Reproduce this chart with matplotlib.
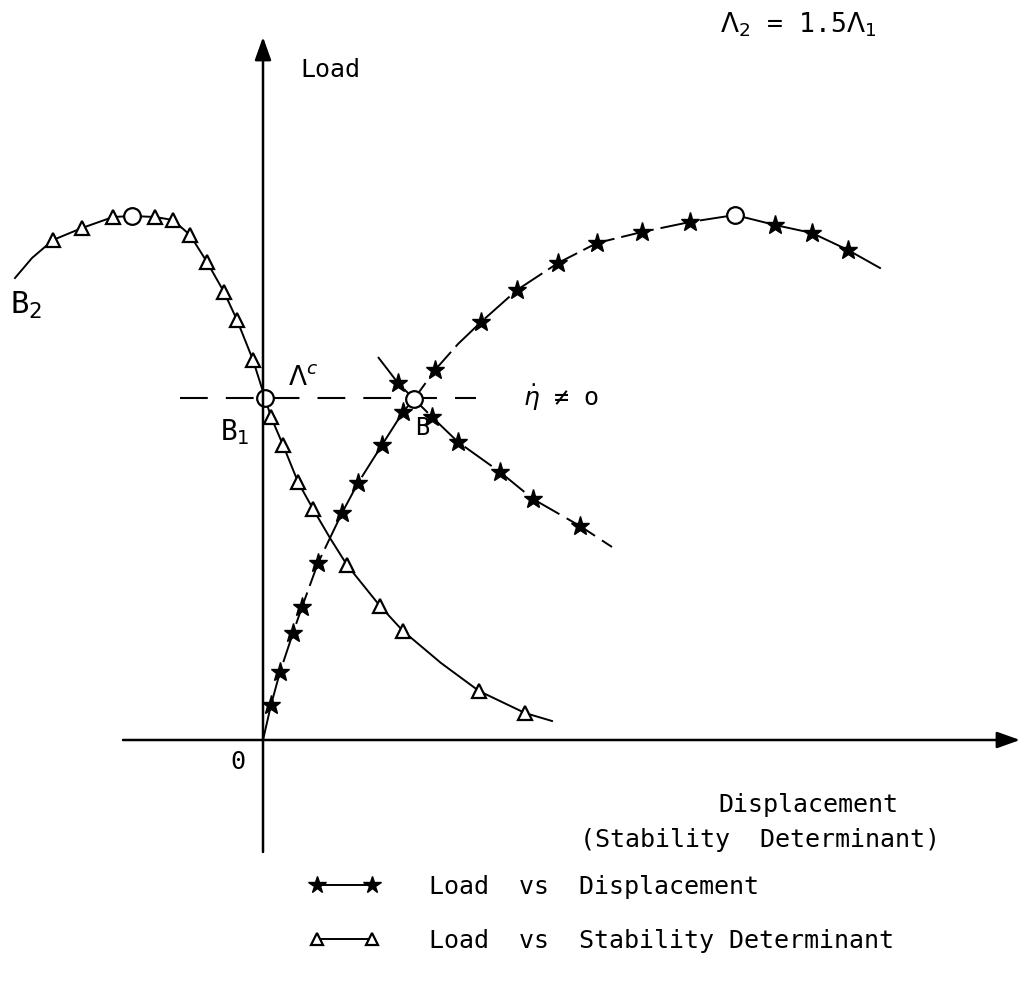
"""Load against displacement and stability determinant for two load paths."""
import matplotlib
matplotlib.use("Agg")
import matplotlib.pyplot as plt
from matplotlib.lines import Line2D

plt.rcParams["font.family"] = ["DejaVu Sans Mono", "DejaVu Sans"]
plt.rcParams["mathtext.fontset"] = "dejavusans"
plt.rcParams["lines.scale_dashes"] = False

# Load vs stability determinant (curve through B2 peak, B1 and down to the axis)
det_x = [-2.48, -2.31, -2.10, -1.81, -1.50, -1.31, -1.08, -0.90, -0.73, -0.56, -0.39,
         -0.26, -0.10, 0.02, 0.08, 0.20, 0.35, 0.50, 0.67, 0.84, 1.17, 1.40, 1.78,
         2.16, 2.62, 2.89]
det_y = [4.62, 4.82, 5.00, 5.12, 5.23, 5.24, 5.23, 5.20, 5.05, 4.78, 4.48,
         4.20, 3.80, 3.42, 3.23, 2.95, 2.58, 2.31, 2.02, 1.75, 1.34, 1.09, 0.77,
         0.49, 0.27, 0.19]
det_mark_x = [-2.10, -1.81, -1.50, -1.08, -0.90, -0.73, -0.56, -0.39, -0.26, -0.10,
              0.08, 0.20, 0.35, 0.50, 0.84, 1.17, 1.40, 2.16, 2.62]
det_mark_y = [5.00, 5.12, 5.23, 5.23, 5.20, 5.05, 4.78, 4.48, 4.20, 3.80,
              3.23, 2.95, 2.58, 2.31, 1.75, 1.34, 1.09, 0.49, 0.27]

# Load vs displacement, primary path (rising part and post-peak part)
disp_x = [0.0, 0.08, 0.17, 0.30, 0.39, 0.55, 0.79, 0.95, 1.19, 1.40, 1.51, 1.72,
          1.95, 2.18, 2.54, 2.95, 3.34, 3.79, 4.27, 4.72]
disp_y = [0.0, 0.35, 0.68, 1.07, 1.33, 1.77, 2.27, 2.57, 2.95, 3.28, 3.41, 3.70,
          3.96, 4.18, 4.50, 4.77, 4.97, 5.08, 5.18, 5.25]
post_x = [4.72, 5.12, 5.49, 5.85, 6.17]
post_y = [5.25, 5.15, 5.07, 4.90, 4.72]
disp_mark_x = [0.08, 0.17, 0.30, 0.39, 0.55, 0.79, 0.95, 1.19, 1.40, 1.72, 2.18,
               2.54, 2.95, 3.34, 3.79, 4.27, 5.12, 5.49, 5.85]
disp_mark_y = [0.35, 0.68, 1.07, 1.33, 1.77, 2.27, 2.57, 2.95, 3.28, 3.70, 4.18,
               4.50, 4.77, 4.97, 5.08, 5.18, 5.15, 5.07, 4.90]

# secondary branch through B (eta-dot != 0)
branch_x = [1.15, 1.35, 1.51, 1.69, 1.95, 2.37, 2.70, 3.17, 3.49]
branch_y = [3.83, 3.57, 3.41, 3.23, 2.98, 2.68, 2.41, 2.14, 1.93]
branch_mark_x = [1.35, 1.69, 1.95, 2.37, 2.70, 3.17]
branch_mark_y = [3.57, 3.23, 2.98, 2.68, 2.41, 2.14]

# limit points: B2 peak, B1, B and the displacement peak
limit_x = [-1.31, 0.02, 1.51, 4.72]
limit_y = [5.24, 3.42, 3.41, 5.25]

lambda_c = 3.42
lambda_c_span = (-0.83, 2.13)

fig = plt.figure(figsize=(10.24, 9.99), dpi=100)
ax = fig.add_axes([0, 0, 1, 1])
ax.set_xlim(-2.63, 7.61)
ax.set_ylim(-2.59, 7.40)
ax.axis("off")

# coordinate axes with arrow heads
arrow = dict(arrowstyle="-|>,head_length=0.7,head_width=0.25", color="black",
             lw=1.8, mutation_scale=20, shrinkA=0, shrinkB=0)
ax.annotate("", xy=(0.0, 7.03), xytext=(0.0, -1.12), arrowprops=arrow)
ax.annotate("", xy=(7.57, 0.0), xytext=(-1.40, 0.0), arrowprops=arrow)

ax.plot([lambda_c_span[0], lambda_c_span[1]], [lambda_c, lambda_c], color="black",
        lw=1.5, dashes=(20, 13))

ax.plot(det_x, det_y, color="black", lw=1.4)
ax.plot(det_mark_x, det_mark_y, ls="none", marker="^", ms=10, mfc="white",
        mec="black", mew=1.6)

ax.plot(disp_x, disp_y, color="black", lw=1.4, dashes=(24, 5))
ax.plot(post_x, post_y, color="black", lw=1.4)
ax.plot(branch_x, branch_y, color="black", lw=1.4, dashes=(24, 6))
ax.plot(disp_mark_x + branch_mark_x, disp_mark_y + branch_mark_y, ls="none",
        marker="*", ms=14, color="black")

ax.plot(limit_x, limit_y, ls="none", marker="o", ms=12, mfc="white", mec="black",
        mew=1.6)

fs = 18
ax.text(0.37, 6.70, "Load", fontsize=fs, va="center")
ax.text(4.57, 7.15, r"$\Lambda_2$ = 1.5$\Lambda_1$", fontsize=19, va="center")
ax.text(-2.53, 4.35, r"B$_2$", fontsize=22, va="center")
ax.text(-0.43, 3.08, r"B$_1$", fontsize=20, va="center")
ax.text(0.25, 3.62, r"$\Lambda^c$", fontsize=19, va="center")
ax.text(1.52, 3.12, "B", fontsize=17, va="center")
ax.text(2.60, 3.42, r"$\dot{\eta}$ ≠ o", fontsize=fs, va="center")
ax.text(-0.25, -0.22, "0", fontsize=fs, va="center", ha="center")
ax.text(4.55, -0.65, "Displacement", fontsize=fs, va="center")
ax.text(3.17, -1.00, "(Stability  Determinant)", fontsize=fs, va="center")

handles = [
    Line2D([], [], color="black", lw=1.4, marker="*", ms=13),
    Line2D([], [], color="black", lw=1.4, marker="^", ms=9, mfc="white", mew=1.6),
]
labels = ["Load  vs  Displacement", "Load  vs  Stability Determinant"]
fig.legend(handles, labels, loc="upper left", bbox_to_anchor=(0.29, 0.137),
           frameon=False, numpoints=2, fontsize=fs, handlelength=2.8,
           handletextpad=2.0, labelspacing=1.2, borderpad=0.0)

fig.savefig("out.png", dpi=100)
